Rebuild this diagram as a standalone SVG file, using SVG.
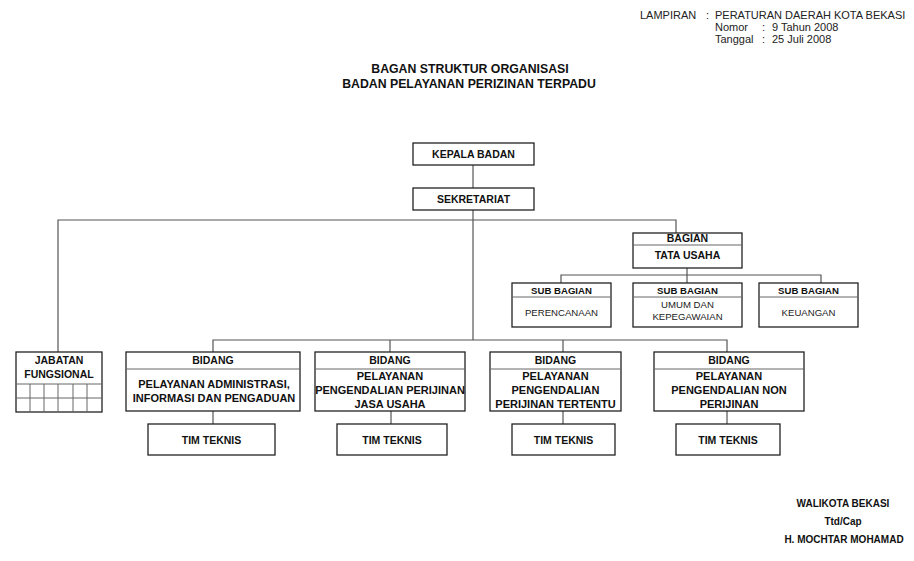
<svg xmlns="http://www.w3.org/2000/svg" width="914" height="561" viewBox="0 0 914 561">
<style>
  .box { fill: #fff; stroke: #222; stroke-width: 1.3; }
  .div { stroke: #666; stroke-width: 1; }
  .con { fill: none; stroke: #555; stroke-width: 1.2; }
  .b { font-family: "Liberation Sans", Arial, sans-serif; font-weight: bold; font-size: 10.5px; fill: #111; text-anchor: middle; }
  .bl { font-size: 11px; }
  .s { font-family: "Liberation Sans", Arial, sans-serif; font-weight: bold; font-size: 9.6px; fill: #111; text-anchor: middle; }
  .n { font-family: "Liberation Sans", Arial, sans-serif; font-size: 9.6px; fill: #222; text-anchor: middle; }
  .h { font-family: "Liberation Sans", Arial, sans-serif; font-size: 11px; fill: #222; }
  .t { font-family: "Liberation Sans", Arial, sans-serif; font-weight: bold; font-size: 12.3px; fill: #111; text-anchor: middle; }
  .f { font-family: "Liberation Sans", Arial, sans-serif; font-weight: bold; font-size: 10px; fill: #111; text-anchor: middle; }
</style>
<rect width="914" height="561" fill="#fff"/>

<g id="header">
  <text class="h" x="640" y="19">LAMPIRAN</text>
  <text class="h" x="706" y="19">:</text>
  <text class="h" x="715" y="19">PERATURAN DAERAH KOTA BEKASI</text>
  <text class="h" x="715" y="31">Nomor</text>
  <text class="h" x="762" y="31">:</text>
  <text class="h" x="772" y="31">9  Tahun 2008</text>
  <text class="h" x="715" y="43">Tanggal</text>
  <text class="h" x="762" y="43">:</text>
  <text class="h" x="772" y="43">25 Juli 2008</text>
</g>

<g id="title">
  <text class="t" x="470" y="73">BAGAN STRUKTUR ORGANISASI</text>
  <text class="t" x="469" y="88">BADAN PELAYANAN PERIZINAN TERPADU</text>
</g>

<g id="connectors">
  <line class="con" x1="473" y1="165" x2="473" y2="188"/>
  <line class="con" x1="473" y1="210" x2="473" y2="340"/>
  <polyline class="con" points="58,352 58,220 676,220 676,233"/>
  <line class="con" x1="687" y1="268" x2="687" y2="275"/>
  <polyline class="con" points="561,283 561,275 821,275 821,283"/>
  <line class="con" x1="687" y1="275" x2="687" y2="283"/>
  <polyline class="con" points="213,352 213,340 727,340 727,352"/>
  <line class="con" x1="390" y1="340" x2="390" y2="352"/>
  <line class="con" x1="563" y1="340" x2="563" y2="352"/>
  <line class="con" x1="213" y1="411" x2="213" y2="424"/>
  <line class="con" x1="391" y1="411" x2="391" y2="424"/>
  <line class="con" x1="563" y1="411" x2="563" y2="424"/>
  <line class="con" x1="727" y1="411" x2="727" y2="424"/>
</g>

<g id="kepala-badan">
  <rect class="box" x="413" y="143" width="121" height="22"/>
  <text class="b" x="473.5" y="158">KEPALA BADAN</text>
</g>

<g id="sekretariat">
  <rect class="box" x="413" y="188" width="121" height="22"/>
  <text class="b" x="473.5" y="203">SEKRETARIAT</text>
</g>

<g id="bagian-tata-usaha">
  <rect class="box" x="633" y="233" width="109" height="35"/>
  <line class="div" x1="633" y1="245" x2="742" y2="245"/>
  <text class="b" x="687.5" y="242">BAGIAN</text>
  <text class="b" x="687.5" y="259">TATA USAHA</text>
</g>

<g id="sub-perencanaan">
  <rect class="box" x="512" y="283" width="99" height="44"/>
  <line class="div" x1="512" y1="297" x2="611" y2="297"/>
  <text class="s" x="561.5" y="294">SUB BAGIAN</text>
  <text class="n" x="561.5" y="316">PERENCANAAN</text>
</g>

<g id="sub-umum">
  <rect class="box" x="633" y="283" width="109" height="44"/>
  <line class="div" x1="633" y1="297" x2="742" y2="297"/>
  <text class="s" x="687.5" y="294">SUB BAGIAN</text>
  <text class="n" x="687.5" y="308">UMUM DAN</text>
  <text class="n" x="687.5" y="320">KEPEGAWAIAN</text>
</g>

<g id="sub-keuangan">
  <rect class="box" x="759" y="283" width="99" height="44"/>
  <line class="div" x1="759" y1="297" x2="858" y2="297"/>
  <text class="s" x="808.5" y="294">SUB BAGIAN</text>
  <text class="n" x="808.5" y="316">KEUANGAN</text>
</g>

<g id="jabatan-fungsional">
  <rect class="box" x="16" y="352" width="86" height="60"/>
  <text class="b" x="59" y="364">JABATAN</text>
  <text class="b" x="59" y="378">FUNGSIONAL</text>
  <line class="div" x1="16" y1="384" x2="102" y2="384"/>
  <line class="div" x1="16" y1="398" x2="102" y2="398"/>
  <line class="div" x1="30" y1="384" x2="30" y2="412"/>
  <line class="div" x1="44" y1="384" x2="44" y2="412"/>
  <line class="div" x1="58" y1="384" x2="58" y2="412"/>
  <line class="div" x1="73" y1="384" x2="73" y2="412"/>
  <line class="div" x1="87" y1="384" x2="87" y2="412"/>
</g>

<g id="bidang-1">
  <rect class="box" x="126" y="352" width="174" height="59"/>
  <line class="div" x1="126" y1="369" x2="300" y2="369"/>
  <text class="b" x="213" y="364">BIDANG</text>
  <text class="b bl" x="214" y="388">PELAYANAN ADMINISTRASI,</text>
  <text class="b bl" x="214" y="402">INFORMASI DAN PENGADUAN</text>
</g>

<g id="bidang-2">
  <rect class="box" x="315" y="352" width="150" height="59"/>
  <line class="div" x1="315" y1="369" x2="465" y2="369"/>
  <text class="b" x="390" y="364">BIDANG</text>
  <text class="b bl" x="390" y="380">PELAYANAN</text>
  <text class="b bl" x="390" y="394">PENGENDALIAN PERIJINAN</text>
  <text class="b bl" x="390" y="408">JASA USAHA</text>
</g>

<g id="bidang-3">
  <rect class="box" x="490" y="352" width="131" height="59"/>
  <line class="div" x1="490" y1="369" x2="621" y2="369"/>
  <text class="b" x="555.5" y="364">BIDANG</text>
  <text class="b bl" x="555.5" y="380">PELAYANAN</text>
  <text class="b bl" x="555.5" y="394">PENGENDALIAN</text>
  <text class="b bl" x="555.5" y="408">PERIJINAN TERTENTU</text>
</g>

<g id="bidang-4">
  <rect class="box" x="654" y="352" width="150" height="59"/>
  <line class="div" x1="654" y1="369" x2="804" y2="369"/>
  <text class="b" x="729" y="364">BIDANG</text>
  <text class="b bl" x="729" y="380">PELAYANAN</text>
  <text class="b bl" x="729" y="394">PENGENDALIAN NON</text>
  <text class="b bl" x="729" y="408">PERIJINAN</text>
</g>

<g id="tim-teknis-1">
  <rect class="box" x="148" y="424" width="127" height="31"/>
  <text class="b" x="211.5" y="444">TIM TEKNIS</text>
</g>
<g id="tim-teknis-2">
  <rect class="box" x="337" y="424" width="110" height="31"/>
  <text class="b" x="392" y="444">TIM TEKNIS</text>
</g>
<g id="tim-teknis-3">
  <rect class="box" x="512" y="424" width="103" height="31"/>
  <text class="b" x="563.5" y="444">TIM TEKNIS</text>
</g>
<g id="tim-teknis-4">
  <rect class="box" x="676" y="424" width="104" height="31"/>
  <text class="b" x="728" y="444">TIM TEKNIS</text>
</g>

<g id="signature">
  <text class="f" x="843" y="507">WALIKOTA BEKASI</text>
  <text class="f" x="843" y="525">Ttd/Cap</text>
  <text class="f" x="844" y="543">H. MOCHTAR MOHAMAD</text>
</g>
</svg>
